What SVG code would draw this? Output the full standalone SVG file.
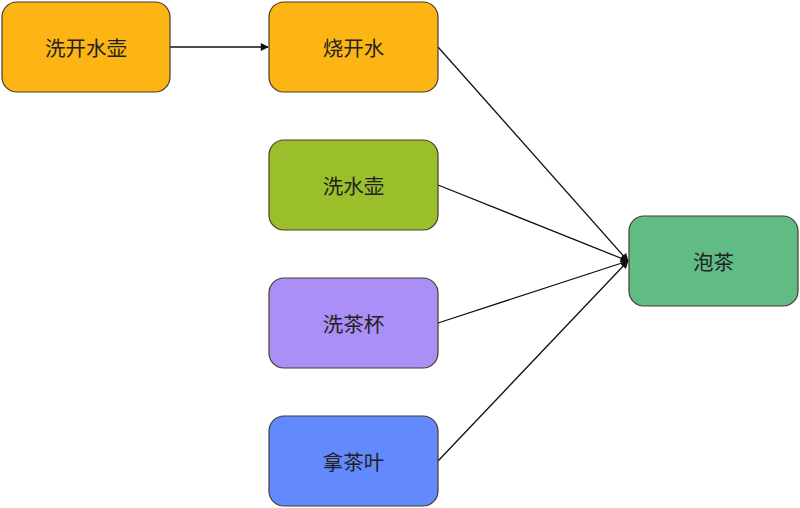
<svg xmlns="http://www.w3.org/2000/svg" width="800" height="508" viewBox="0 0 800 508">
<defs>
<style>
.node rect{stroke:#4a3b2a;stroke-width:1.2}
.node text{font-family:"Noto Sans CJK SC","Noto Sans",sans-serif;font-size:20.5px;fill:#222;text-anchor:middle;dominant-baseline:central}
.edge{stroke:#111;stroke-width:1.3;fill:none;marker-end:url(#arr)}
</style>
<marker id="arr" viewBox="0 0 10 10" refX="9" refY="5" markerWidth="9" markerHeight="8" orient="auto" markerUnits="userSpaceOnUse">
<path d="M0,0 L10,5 L0,10 z" fill="#111"/>
</marker>
</defs>
<rect width="800" height="508" fill="#fff"/>
<g id="connectors">
<line class="edge" x1="170" y1="47" x2="268" y2="47"/>
<line class="edge" x1="438" y1="47" x2="628" y2="261"/>
<line class="edge" x1="438" y1="185" x2="628" y2="261"/>
<line class="edge" x1="438" y1="323" x2="628" y2="261"/>
<line class="edge" x1="438" y1="461" x2="628" y2="261"/>
</g>
<g id="n1" class="node"><rect x="2" y="2" width="168" height="90" rx="15" fill="#fdb515"/><text x="86" y="47">洗开水壶</text></g>
<g id="n2" class="node"><rect x="269" y="2" width="169" height="90" rx="15" fill="#fdb515"/><text x="353.5" y="47">烧开水</text></g>
<g id="n3" class="node"><rect x="269" y="140" width="169" height="90" rx="15" fill="#9bbf2a"/><text x="353.5" y="185">洗水壶</text></g>
<g id="n4" class="node"><rect x="269" y="278" width="169" height="90" rx="15" fill="#aa8ff7"/><text x="353.5" y="323">洗茶杯</text></g>
<g id="n5" class="node"><rect x="269" y="416" width="169" height="90" rx="15" fill="#6389fe"/><text x="353.5" y="461">拿茶叶</text></g>
<g id="n6" class="node"><rect x="629" y="216" width="169" height="90" rx="15" fill="#61bb85"/><text x="713.5" y="261">泡茶</text></g>
</svg>
